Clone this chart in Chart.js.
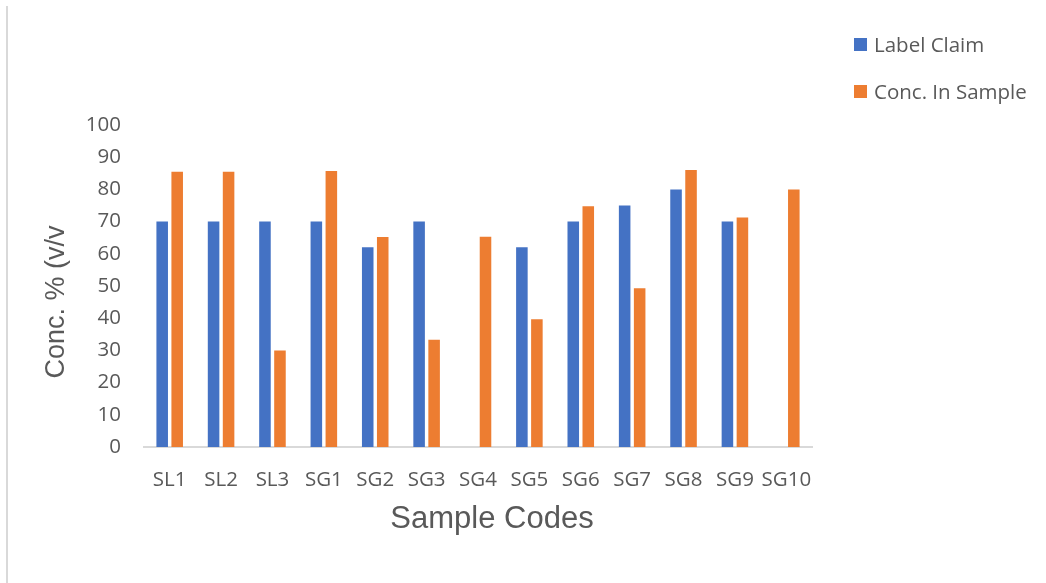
<!DOCTYPE html>
<html>
<head>
<meta charset="utf-8">
<script src="https://cdn.jsdelivr.net/npm/chart.js@4/dist/chart.umd.min.js"></script>
<style>
  html, body { margin: 0; padding: 0; background: #fff; }
  #wrap { position: relative; width: 1046px; height: 583px; }
  #border { position: absolute; left: 6px; top: 6px; width: 2px; height: 577px; background: #d9d9d9; }
  #legend { position: absolute; left: 854px; top: 30px; font-family: "Open Sans", sans-serif; font-size: 20.5px; color: #595959; }
  .item { display: flex; align-items: center; height: 28px; margin-bottom: 19px; white-space: nowrap; }
  .box { width: 13px; height: 13px; margin-right: 7px; }
</style>
</head>
<body>
<div id="wrap">
  <div id="border"></div>
  <canvas id="c" width="1046" height="583"></canvas>
  <div id="legend"></div>
</div>
<script>
const categories = ["SL1","SL2","SL3","SG1","SG2","SG3","SG4","SG5","SG6","SG7","SG8","SG9","SG10"];
const labelClaim = [70, 70, 70, 70, 62, 70, null, 62, 70, 75, 80, 70, null];
const concInSample = [85.5, 85.5, 30, 85.7, 65.2, 33.3, 65.3, 39.7, 74.8, 49.3, 86, 71.3, 80];
const seriesNames = ["Label Claim", "Conc. In Sample"];
const seriesColors = ["#4472C4", "#ED7D31"];
const yTitle = "Conc. % (v/v";
const xTitle = "Sample Codes";

const tickColor = "#595959";

function shiftTitle(dx, dy) {
  return (scale) => {
    if (scale._titleShifted) return;
    const orig = scale.drawTitle.bind(scale);
    scale.drawTitle = function () {
      const ctx = this.ctx;
      ctx.save();
      ctx.translate(dx, dy);
      orig();
      ctx.restore();
    };
    scale._titleShifted = true;
  };
}

const chart = new Chart(document.getElementById("c"), {
  type: "bar",
  data: {
    labels: categories,
    datasets: [
      { label: seriesNames[0], data: labelClaim, backgroundColor: seriesColors[0], categoryPercentage: 0.584, barPercentage: 0.77 },
      { label: seriesNames[1], data: concInSample, backgroundColor: seriesColors[1], categoryPercentage: 0.584, barPercentage: 0.77 }
    ]
  },
  options: {
    responsive: false,
    animation: false,
    devicePixelRatio: 1,
    layout: { padding: { left: 20, right: 234, top: 125, bottom: 45 } },
    plugins: { legend: { display: false }, tooltip: { enabled: false } },
    scales: {
      x: {
        grid: { display: false },
        border: { display: true, color: "#d9d9d9", width: 2 },
        ticks: { color: tickColor, font: { family: "Open Sans", size: 20.5 }, padding: 13, maxRotation: 0, autoSkip: false },
        title: { display: true, text: xTitle, color: tickColor, font: { family: "Liberation Sans", size: 31 }, padding: { top: 16, bottom: 0 } },
        afterFit: (s) => { s.height = 91; },
        afterUpdate: shiftTitle(14, 0)
      },
      y: {
        min: 0, max: 100,
        grid: { display: false },
        border: { display: false },
        ticks: { stepSize: 10, color: tickColor, font: { family: "Open Sans", size: 20.5 }, padding: 15 },
        title: { display: true, text: yTitle, color: tickColor, font: { family: "Liberation Sans", size: 27 }, padding: { top: 18, bottom: 10 } },
        afterFit: (s) => { s.width = 124; },
        afterUpdate: shiftTitle(2, 16)
      }
    }
  }
});

const legend = document.getElementById("legend");
chart.data.datasets.forEach((ds) => {
  const item = document.createElement("div");
  item.className = "item";
  const box = document.createElement("span");
  box.className = "box";
  box.style.background = ds.backgroundColor;
  const txt = document.createElement("span");
  txt.textContent = ds.label;
  item.appendChild(box);
  item.appendChild(txt);
  legend.appendChild(item);
});
</script>
</body>
</html>
